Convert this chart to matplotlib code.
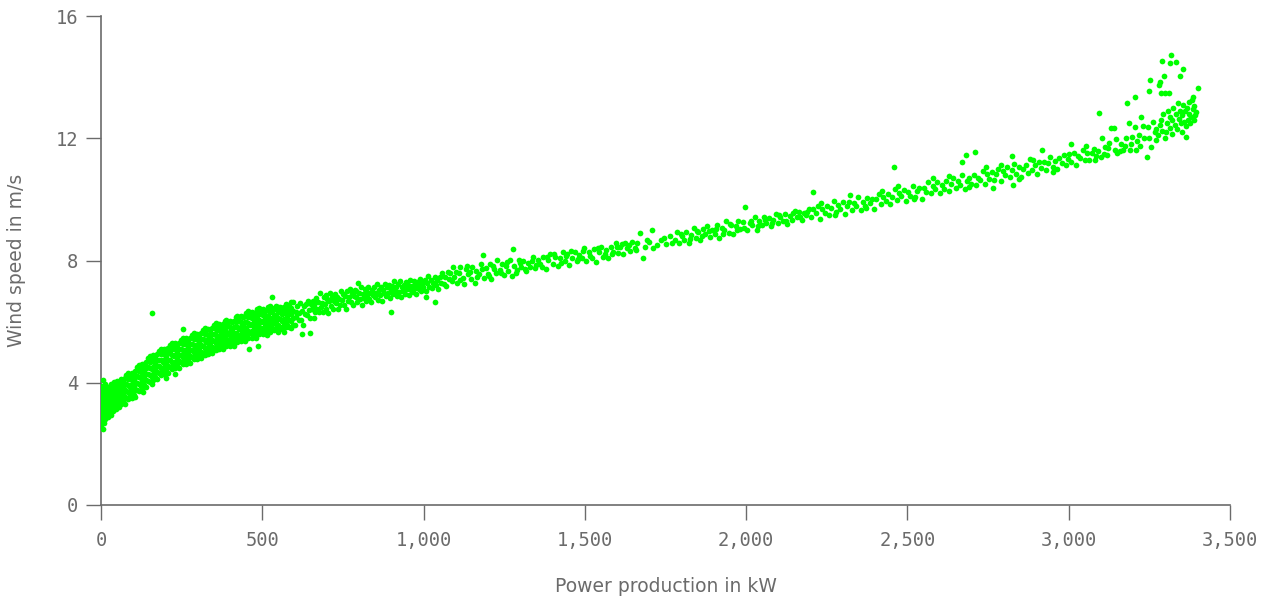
import matplotlib
matplotlib.use("Agg")
import matplotlib.pyplot as plt
from matplotlib.ticker import FuncFormatter

# Power production (kW) -> wind speed readings (m/s).
# Dense low-power part: each power value holds the wind speeds seen around it.
startup_cluster = {
    0: [2.62, 2.83, 3.07, 3.2, 3.43, 3.57, 3.78],
    3: [2.71, 2.99, 3.14, 3.36, 3.49, 3.88],
    6: [2.49, 2.92, 3.08, 3.29, 3.47, 3.66, 4.09],
    9: [2.68, 3.03, 3.18, 3.39, 3.57, 3.79],
    13: [2.8, 3.1, 3.26, 3.44, 3.63, 3.95],
    17: [2.97, 3.16, 3.37, 3.53, 3.73],
    21: [2.87, 3.12, 3.29, 3.51, 3.67, 3.87],
    26: [3.01, 3.2, 3.44, 3.59, 3.82],
    31: [2.93, 3.16, 3.34, 3.56, 3.73, 3.96],
    36: [3.07, 3.3, 3.47, 3.69, 3.87],
    41: [3.19, 3.41, 3.59, 3.82, 4.01],
    46: [3.13, 3.34, 3.56, 3.74, 3.96],
    51: [3.27, 3.49, 3.67, 3.89, 4.07],
    56: [3.21, 3.43, 3.61, 3.83, 4.02],
}

low_band = {
    62: [3.29, 3.51, 3.74, 3.92, 4.11], 67: [3.39, 3.64, 3.86, 4.07],
    73: [3.32, 3.54, 3.75, 3.95, 4.14], 78: [3.51, 3.74, 3.96, 4.25],
    84: [3.46, 3.69, 3.93, 4.13, 4.32], 89: [3.61, 3.87, 4.13, 4.26],
    95: [3.5, 3.72, 3.95, 4.13, 4.32], 101: [3.61, 3.86, 4.08, 4.29],
    106: [3.55, 3.77, 3.98, 4.18, 4.37], 112: [3.77, 4.0, 4.22, 4.51],
    117: [3.73, 3.96, 4.2, 4.4, 4.59], 123: [3.9, 4.16, 4.42, 4.55],
    128: [3.79, 4.01, 4.24, 4.42, 4.61], 130: [3.7],
    134: [3.92, 4.17, 4.39, 4.6], 140: [3.86, 4.08, 4.29, 4.49, 4.68],
    145: [4.06, 4.29, 4.51, 4.8], 151: [4.02, 4.25, 4.49, 4.69, 4.88],
    157: [4.19, 4.45, 4.71, 4.84], 158: [3.96, 6.29],
    162: [4.08, 4.3, 4.53, 4.71, 4.9], 168: [4.19, 4.44, 4.66, 4.87],
    174: [4.12, 4.34, 4.55, 4.75, 4.94], 179: [4.31, 4.54, 4.76, 5.05],
    185: [4.26, 4.49, 4.73, 4.93, 5.12], 191: [4.42, 4.68, 4.94, 5.07],
    196: [4.3, 4.52, 4.75, 4.93, 5.12], 200: [4.15],
    202: [4.41, 4.66, 4.88, 5.09], 208: [4.33, 4.55, 4.76, 4.96, 5.15],
    213: [4.51, 4.74, 4.96, 5.25], 219: [4.45, 4.68, 4.92, 5.12, 5.31],
    225: [4.6, 4.86, 5.12, 5.25], 230: [4.3, 4.47, 4.69, 4.92, 5.1, 5.29],
    236: [4.57, 4.82, 5.04, 5.25], 242: [4.48, 4.7, 4.91, 5.11, 5.3],
    247: [4.67, 4.9, 5.12, 5.41], 253: [4.61, 4.84, 5.08, 5.28, 5.47, 5.76],
}

mid_band = {
    259: [4.76, 5.02, 5.28, 5.41], 264: [4.63, 4.85, 5.08, 5.26, 5.45],
    270: [4.73, 4.98, 5.2, 5.41], 276: [4.65, 4.87, 5.08, 5.28, 5.47],
    281: [4.83, 5.06, 5.28, 5.57], 287: [4.77, 5.0, 5.24, 5.44, 5.63],
    293: [4.92, 5.18, 5.44, 5.57], 298: [4.79, 5.01, 5.24, 5.42, 5.61],
    304: [4.88, 5.13, 5.35, 5.56], 310: [4.8, 5.02, 5.23, 5.43, 5.62],
    315: [4.98, 5.21, 5.43, 5.72], 321: [4.92, 5.15, 5.39, 5.59, 5.78],
    327: [5.07, 5.33, 5.59, 5.72], 332: [4.94, 5.16, 5.39, 5.57, 5.76],
    338: [5.04, 5.29, 5.51, 5.72], 344: [4.96, 5.18, 5.39, 5.59, 5.78],
    349: [5.14, 5.37, 5.59, 5.88], 355: [5.08, 5.31, 5.55, 5.75, 5.94],
    361: [5.22, 5.48, 5.74, 5.87], 366: [5.09, 5.31, 5.54, 5.72, 5.91],
    372: [5.18, 5.43, 5.65, 5.86], 378: [5.09, 5.31, 5.52, 5.72, 5.91],
    383: [5.27, 5.5, 5.72, 6.01], 389: [5.2, 5.43, 5.67, 5.87, 6.06],
    395: [5.34, 5.6, 5.86, 5.99], 400: [5.2, 5.42, 5.65, 5.83, 6.02],
    406: [5.3, 5.55, 5.77, 5.98], 412: [5.21, 5.43, 5.64, 5.84, 6.03],
    417: [5.4, 5.63, 5.85, 6.14], 423: [5.34, 5.57, 5.81, 6.01, 6.2],
    429: [5.49, 5.75, 6.01, 6.14], 434: [5.36, 5.58, 5.81, 5.99, 6.18],
    440: [5.46, 5.71, 5.93, 6.14], 446: [5.37, 5.59, 5.8, 6.0, 6.19],
    451: [5.55, 5.78, 6.0, 6.29], 457: [5.48, 5.71, 5.95, 6.15, 6.34],
    458: [5.1], 463: [5.62, 5.88, 6.14, 6.27],
    468: [5.48, 5.7, 5.93, 6.11, 6.3], 474: [5.57, 5.82, 6.04, 6.25],
    480: [5.48, 5.7, 5.91, 6.11, 6.3], 485: [5.66, 5.89, 6.11, 6.4],
    488: [5.2], 491: [5.58, 5.81, 6.05, 6.25, 6.44],
    497: [5.72, 5.98, 6.24, 6.37], 502: [5.58, 5.8, 6.03, 6.21, 6.4],
    508: [5.66, 5.91, 6.13, 6.34], 514: [5.56, 5.78, 5.99, 6.19, 6.38],
    519: [5.73, 5.96, 6.18, 6.47], 525: [5.65, 5.88, 6.12, 6.32, 6.51],
    530: [6.8], 531: [5.79, 6.05, 6.31, 6.44],
    536: [5.72, 5.97, 6.19, 6.4], 542: [5.78, 6.01, 6.23, 6.52],
    548: [5.67, 5.89, 6.12, 6.3, 6.49], 554: [5.84, 6.1, 6.36, 6.49],
    560: [5.77, 6.02, 6.24, 6.45], 566: [5.67, 5.89, 6.1, 6.3, 6.49],
    572: [5.84, 6.07, 6.29, 6.58], 578: [5.89, 6.15, 6.41, 6.54],
    584: [5.82, 6.07, 6.29, 6.5], 590: [5.79, 6.02, 6.26, 6.46, 6.65],
    596: [5.89, 6.12, 6.34, 6.63],
}

# From here on the band thins out: plain (kW, m/s) pairs
upper_band = [
    (601, 5.89), (604, 6.33), (606, 6.16), (609, 6.51), (613, 6.04), (615, 6.27),
    (618, 6.6), (620, 6.05), (622, 5.58), (624, 6.35), (627, 5.9), (630, 6.52),
    (633, 6.26), (636, 6.57), (638, 6.23), (641, 6.67), (644, 6.39), (647, 6.13),
    (648, 5.64), (650, 6.57), (653, 6.41), (656, 6.69), (659, 6.12), (661, 6.53),
    (664, 6.31), (667, 6.78), (670, 6.43), (673, 6.65), (676, 6.32), (679, 6.94),
    (682, 6.48), (685, 6.62), (688, 6.32), (690, 6.8), (693, 6.59), (696, 6.86),
    (699, 6.43), (702, 6.73), (705, 6.27), (708, 6.69), (711, 6.94), (714, 6.51),
    (717, 6.82), (720, 6.42), (723, 6.69), (726, 6.9), (729, 6.61), (732, 6.82),
    (735, 6.43), (738, 6.75), (741, 6.53), (744, 6.99), (747, 6.71), (750, 6.9),
    (753, 6.55), (756, 6.84), (759, 6.43), (762, 6.99), (765, 6.68), (768, 6.82),
    (771, 7.06), (774, 6.66), (777, 6.93), (780, 6.56), (783, 6.84), (786, 7.04),
    (789, 6.8), (792, 7.0), (795, 6.64), (797, 7.26), (799, 6.94), (802, 6.75),
    (805, 7.12), (808, 6.55), (811, 6.91), (814, 6.79), (817, 7.06), (820, 6.68),
    (823, 6.99), (826, 6.87), (829, 7.15), (832, 6.73), (835, 6.95), (838, 6.65),
    (841, 7.04), (844, 6.87), (847, 7.13), (850, 6.8), (853, 6.95), (856, 7.23),
    (859, 6.72), (862, 7.04), (866, 6.87), (869, 7.12), (872, 6.67), (875, 7.03),
    (878, 6.95), (881, 7.22), (884, 6.83), (887, 7.12), (890, 6.94), (893, 7.2),
    (896, 6.77), (899, 7.05), (900, 6.33), (903, 7.17), (906, 6.91), (909, 7.34),
    (912, 7.0), (915, 7.14), (918, 6.85), (921, 7.23), (924, 6.96), (927, 7.32),
    (930, 6.8), (933, 7.12), (936, 7.02), (939, 7.2), (942, 6.9), (945, 7.3),
    (948, 7.08), (951, 7.2), (954, 6.88), (957, 7.38), (960, 7.04), (963, 7.16),
    (966, 6.98), (969, 7.33), (972, 7.11), (975, 7.25), (978, 6.91), (981, 7.31),
    (984, 7.17), (987, 7.06), (990, 7.41), (993, 7.0), (996, 7.26), (999, 7.14),
    (1003, 7.37), (1006, 7.0), (1009, 6.82), (1010, 7.27), (1014, 7.5), (1018, 7.14),
    (1022, 7.36), (1026, 7.09), (1030, 7.28), (1034, 7.47), (1035, 6.65), (1038, 7.2),
    (1042, 7.38), (1046, 7.07), (1050, 7.45), (1054, 7.27), (1058, 7.6), (1062, 7.23),
    (1066, 7.45), (1071, 7.16), (1075, 7.62), (1079, 7.41), (1083, 7.6), (1087, 7.34),
    (1091, 7.8), (1095, 7.45), (1099, 7.61),
]

rising_band = [
    (1103, 7.28), (1109, 7.59), (1112, 7.35), (1114, 7.79), (1121, 7.44), (1126, 7.23),
    (1133, 7.71), (1135, 7.82), (1138, 7.57), (1144, 7.62), (1147, 7.4), (1151, 7.79),
    (1158, 7.26), (1163, 7.67), (1166, 7.46), (1171, 7.57), (1178, 7.89), (1181, 7.74),
    (1184, 8.18), (1187, 7.42), (1192, 7.76), (1199, 7.57), (1202, 7.48), (1206, 7.88),
    (1210, 7.41), (1214, 7.83), (1217, 7.73), (1224, 7.58), (1229, 8.01), (1236, 7.69),
    (1240, 7.6), (1243, 7.9), (1249, 7.53), (1255, 7.83), (1258, 7.95), (1262, 7.67),
    (1268, 8.02), (1274, 7.51), (1277, 8.38), (1281, 7.83), (1285, 7.6), (1289, 7.68),
    (1295, 8.02), (1298, 7.92), (1302, 7.79), (1309, 7.98), (1313, 7.74), (1317, 7.67),
    (1324, 7.93), (1331, 7.8), (1335, 8.0), (1339, 8.11), (1346, 7.75), (1350, 7.84),
    (1355, 8.01), (1361, 7.9), (1366, 7.8), (1370, 8.11), (1378, 7.72), (1382, 8.12),
    (1385, 8.01), (1393, 8.2), (1400, 7.88), (1404, 8.22), (1408, 8.11), (1416, 7.82),
    (1423, 8.07), (1427, 7.92), (1431, 8.29), (1439, 7.98), (1443, 8.15), (1446, 8.2),
    (1452, 7.86), (1457, 8.32), (1460, 8.1), (1468, 8.28), (1475, 7.97), (1479, 8.05),
    (1483, 8.19), (1490, 8.09), (1494, 8.3), (1498, 8.41), (1505, 7.98), (1513, 8.27),
    (1517, 8.15), (1521, 8.1), (1528, 8.37), (1536, 7.96), (1540, 8.4), (1544, 8.27),
    (1550, 8.46), (1557, 8.13), (1561, 8.2), (1565, 8.34), (1572, 8.09), (1580, 8.45),
    (1584, 8.22), (1587, 8.29), (1595, 8.59), (1599, 8.44), (1603, 8.26), (1610, 8.45),
    (1614, 8.54), (1618, 8.22), (1625, 8.59), (1632, 8.41), (1636, 8.52), (1640, 8.3),
    (1647, 8.6), (1654, 8.42), (1658, 8.36), (1662, 8.57), (1671, 8.9), (1680, 8.08),
    (1686, 8.46), (1693, 8.66), (1700, 8.6), (1707, 8.99), (1712, 8.42), (1724, 8.52),
    (1735, 8.67), (1745, 8.75), (1752, 8.53), (1764, 8.82), (1770, 8.58), (1778, 8.68),
    (1786, 8.92), (1793, 8.56), (1798, 8.86), (1801, 8.81), (1808, 8.68), (1815, 8.95),
    (1822, 8.56), (1826, 8.72), (1829, 8.83), (1837, 9.07), (1844, 8.73), (1847, 8.98),
    (1851, 8.94), (1858, 8.67), (1863, 8.8), (1866, 9.02), (1873, 8.86), (1880, 9.13),
    (1884, 8.98), (1888, 8.78), (1895, 8.99), (1902, 8.88), (1906, 9.04), (1910, 9.15),
    (1917, 8.74), (1924, 9.08), (1928, 8.86), (1931, 8.99), (1939, 9.29), (1946, 8.91),
    (1950, 9.2), (1953, 9.17), (1960, 8.88), (1968, 9.12), (1972, 9.0), (1975, 9.3),
    (1982, 9.03), (1990, 9.26), (1993, 9.05), (1997, 9.75), (2004, 9.0), (2011, 9.24),
    (2015, 9.3), (2018, 9.16), (2026, 9.42), (2033, 9.01), (2037, 9.14), (2040, 9.28),
    (2048, 9.15), (2055, 9.42), (2058, 9.32), (2062, 9.22), (2070, 9.39), (2077, 9.12),
    (2081, 9.24), (2084, 9.33), (2092, 9.52), (2099, 9.23), (2103, 9.5), (2106, 9.44),
    (2113, 9.31), (2121, 9.53), (2125, 9.3), (2128, 9.2), (2135, 9.46), (2143, 9.34),
    (2146, 9.56), (2150, 9.62), (2157, 9.44), (2164, 9.58), (2168, 9.42), (2172, 9.34),
    (2179, 9.56), (2186, 9.48), (2190, 9.6), (2194, 9.68), (2206, 10.26),
]

high_band = [
    (2201, 9.41), (2208, 9.69), (2215, 9.56), (2222, 9.8), (2229, 9.36), (2232, 9.9),
    (2236, 9.68), (2243, 9.55), (2250, 9.8), (2257, 9.48), (2264, 9.71), (2271, 9.95),
    (2275, 9.5), (2278, 9.59), (2285, 9.81), (2292, 9.68), (2299, 9.93), (2306, 9.54),
    (2313, 9.79), (2320, 9.92), (2323, 10.15), (2327, 9.65), (2334, 9.89), (2341, 9.77),
    (2348, 10.08), (2355, 9.67), (2362, 9.91), (2369, 9.79), (2373, 9.72), (2376, 10.06),
    (2383, 9.89), (2390, 10.03), (2397, 9.7), (2404, 10.01), (2411, 10.18), (2418, 9.86),
    (2420, 10.28), (2425, 10.09), (2432, 9.95), (2439, 10.18), (2446, 9.86), (2453, 10.09),
    (2459, 11.05), (2460, 10.34), (2467, 9.99), (2470, 10.45), (2474, 10.21), (2481, 10.1),
    (2488, 10.32), (2495, 9.94), (2502, 10.24), (2509, 10.12), (2516, 10.43), (2520, 10.0),
    (2523, 10.07), (2530, 10.28), (2537, 10.38), (2544, 10.01), (2551, 10.36), (2558, 10.26),
    (2565, 10.56), (2572, 10.2), (2579, 10.45), (2580, 10.7), (2586, 10.35), (2593, 10.57),
    (2600, 10.2), (2607, 10.46), (2614, 10.34), (2621, 10.59), (2628, 10.29), (2630, 10.78),
    (2635, 10.49), (2642, 10.7), (2649, 10.38), (2656, 10.59), (2663, 10.48), (2668, 11.23),
    (2670, 10.81), (2677, 10.34), (2680, 11.47), (2684, 10.61), (2690, 10.42), (2691, 10.71),
    (2698, 10.5), (2705, 10.81), (2709, 11.54), (2712, 10.47), (2719, 10.71), (2726, 10.64),
    (2733, 10.93), (2740, 10.51), (2742, 11.05), (2747, 10.82), (2754, 10.66), (2761, 10.91),
    (2765, 10.37), (2768, 10.64), (2775, 10.82), (2782, 11.01), (2789, 10.6), (2791, 11.12),
    (2796, 10.92), (2803, 10.81), (2810, 11.05), (2817, 10.74), (2824, 10.95), (2825, 11.43),
    (2828, 10.47), (2831, 11.17), (2838, 10.84), (2845, 11.05), (2847, 10.68), (2852, 10.75),
    (2859, 10.99), (2866, 11.13), (2873, 10.88), (2880, 11.31), (2887, 10.98), (2890, 11.3),
    (2894, 11.13), (2901, 10.82), (2908, 11.24), (2915, 11.03), (2916, 11.62), (2922, 11.22),
    (2929, 10.96), (2936, 11.19), (2943, 11.4), (2950, 11.07), (2952, 10.9), (2957, 11.26),
    (2964, 11.01), (2971, 11.37), (2978, 11.21), (2985, 11.46), (2992, 11.13), (2999, 11.34),
    (3002, 11.5), (3006, 11.83), (3008, 11.24), (3015, 11.52), (3022, 11.14), (3029, 11.43),
    (3036, 11.35), (3043, 11.63), (3050, 11.29), (3052, 11.75), (3057, 11.53), (3064, 11.28),
    (3071, 11.51), (3078, 11.64), (3080, 11.3), (3085, 11.41), (3092, 11.6), (3094, 12.83),
    (3099, 11.39), (3103, 12.01),
]

rated_cluster = [
    (3108, 11.5), (3112, 11.72), (3120, 11.45), (3123, 11.7), (3125, 11.86), (3131, 12.35),
    (3140, 12.35), (3142, 11.62), (3146, 11.98), (3150, 11.52), (3158, 11.6), (3162, 11.82),
    (3169, 11.62), (3173, 11.75), (3177, 12.0), (3182, 13.17), (3187, 12.51), (3190, 11.62),
    (3194, 11.8), (3197, 12.05), (3205, 13.34), (3206, 12.37), (3209, 11.62), (3212, 11.9),
    (3218, 12.1), (3221, 11.75), (3224, 12.69), (3229, 12.4), (3233, 12.0), (3242, 11.4),
    (3247, 12.37), (3249, 13.55), (3250, 12.0), (3252, 13.92), (3255, 11.72),
    (3262, 12.54), (3266, 12.2), (3269, 11.95), (3272, 12.3), (3278, 12.1), (3280, 13.75),
    (3282, 12.45), (3283, 13.84), (3285, 13.5), (3286, 12.6), (3288, 12.25), (3289, 14.53),
    (3293, 12.8), (3295, 14.05), (3297, 12.0), (3299, 13.5), (3303, 12.2), (3306, 12.5),
    (3308, 12.9), (3312, 13.5), (3313, 12.35), (3314, 14.47), (3315, 12.7), (3317, 14.73),
    (3319, 12.15), (3321, 12.6), (3323, 13.0), (3328, 12.45), (3331, 12.8), (3332, 14.5),
    (3337, 12.3), (3339, 13.15), (3341, 12.65), (3345, 14.05), (3346, 12.9), (3348, 12.5),
    (3350, 12.2), (3352, 12.75), (3354, 14.27), (3355, 13.09), (3357, 12.55),
    (3360, 12.9), (3362, 12.4), (3363, 12.05), (3368, 13.0), (3370, 12.6), (3372, 12.8),
    (3374, 13.2), (3377, 12.5), (3380, 12.7), (3382, 13.25), (3384, 12.95),
    (3385, 13.35), (3387, 12.6), (3389, 13.05), (3391, 12.75), (3395, 12.85), (3401, 13.64),
]

x_ticks = [0, 500, 1000, 1500, 2000, 2500, 3000, 3500]
y_ticks = [0, 4, 8, 12, 16]

# build flat lists
power = []
wind = []
for columns in [startup_cluster, low_band, mid_band]:
    for kw, speeds in columns.items():
        for s in speeds:
            power.append(kw)
            wind.append(s)
for pairs in [upper_band, rising_band, high_band, rated_cluster]:
    for kw, s in pairs:
        power.append(kw)
        wind.append(s)

grey = '#6b6b6b'
fig = plt.figure(figsize=(12.72, 5.99), dpi=100)
ax = fig.add_axes([0.0794, 0.157, 0.8876, 0.816])

ax.scatter(power, wind, s=17, color='#00ff00', linewidths=0, zorder=3)

ax.set_xlim(0, 3500)
ax.set_ylim(0, 16)
ax.set_xticks(x_ticks)
ax.set_yticks(y_ticks)
ax.xaxis.set_major_formatter(FuncFormatter(lambda v, p: f'{int(v):,}'))

for side in ['top', 'right']:
    ax.spines[side].set_visible(False)
for side in ['left', 'bottom']:
    ax.spines[side].set_color(grey)
    ax.spines[side].set_linewidth(1.2)

ax.tick_params(axis='both', length=10.5, width=1.0, color=grey, labelcolor=grey,
               labelsize=13.5)
ax.tick_params(axis='x', pad=8)
ax.tick_params(axis='y', pad=6)
for lab in ax.get_xticklabels() + ax.get_yticklabels():
    lab.set_family('DejaVu Sans Mono')

ax.set_xlabel('Power production in kW', color=grey, fontsize=13.5)
ax.set_ylabel('Wind speed in m/s', color=grey, fontsize=13.5)
ax.xaxis.set_label_coords(0.5, -0.147)
ax.yaxis.set_label_coords(-0.066, 0.5)

fig.savefig('out.png', dpi=100)
